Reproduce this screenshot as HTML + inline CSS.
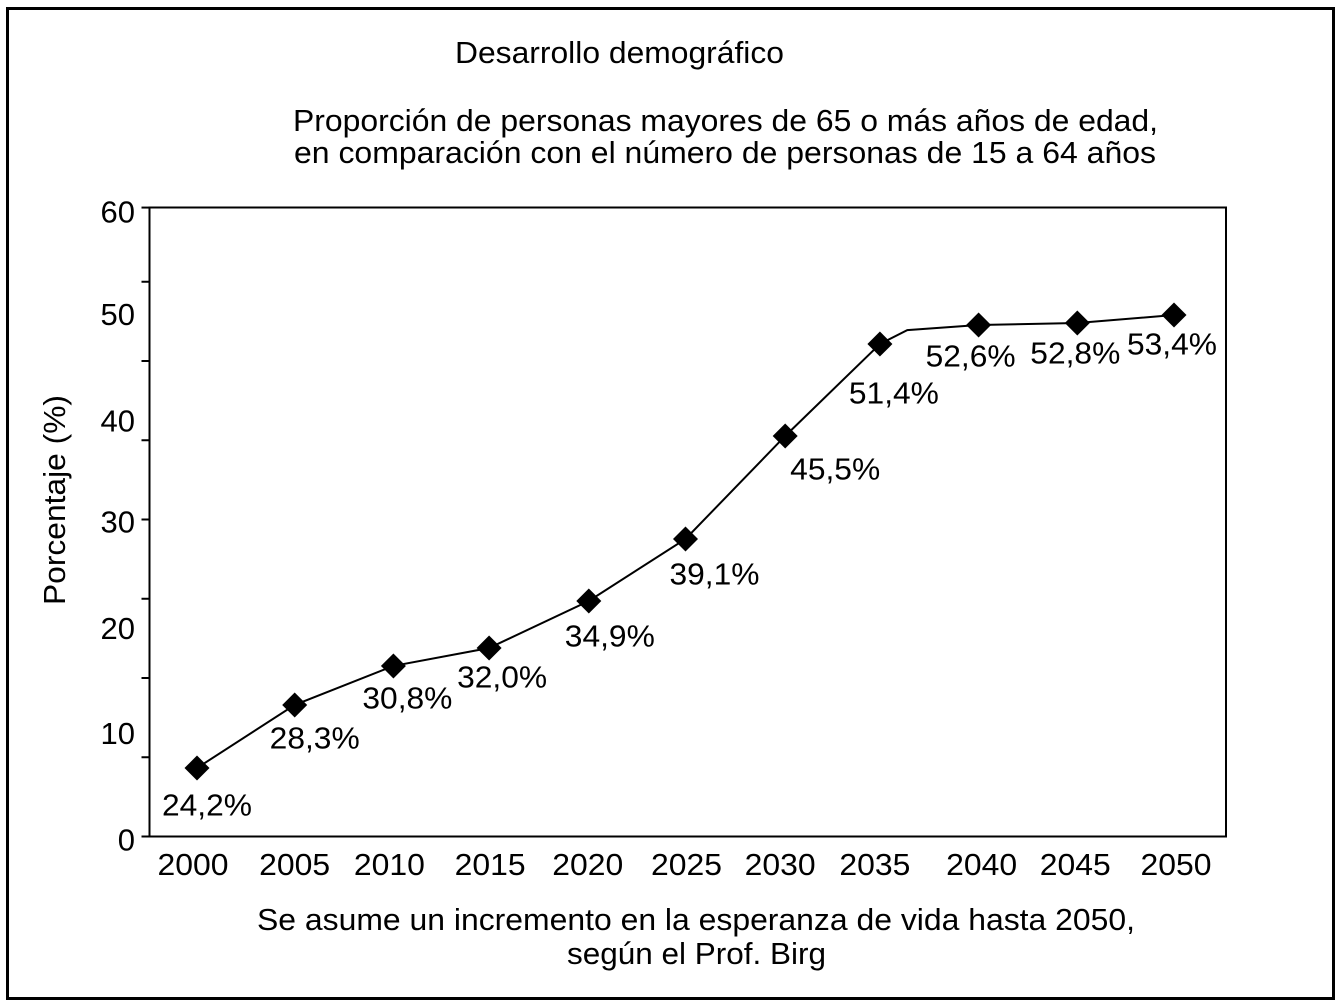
<!DOCTYPE html>
<html lang="es">
<head>
<meta charset="utf-8">
<title>Desarrollo demográfico</title>
<style>
html,body{margin:0;padding:0;background:#fff;width:1339px;height:1004px;overflow:hidden}
svg{display:block}
text{font-family:"Liberation Sans",Arial,sans-serif;font-size:31px;fill:#000}
</style>
</head>
<body>
<svg id="chart" xmlns="http://www.w3.org/2000/svg" width="1339" height="1004" viewBox="0 0 1339 1004">
  <rect x="7.5" y="8.5" width="1326" height="990" fill="#fff" stroke="#000" stroke-width="3"/>
  <text x="455" y="63" textLength="329" lengthAdjust="spacingAndGlyphs">Desarrollo demográfico</text>
  <text x="293" y="131" textLength="865" lengthAdjust="spacingAndGlyphs">Proporción de personas mayores de 65 o más años de edad,</text>
  <text x="294" y="163" textLength="862" lengthAdjust="spacingAndGlyphs">en comparación con el número de personas de 15 a 64 años</text>
  <text transform="translate(65,605) rotate(-90)" textLength="210" lengthAdjust="spacingAndGlyphs">Porcentaje (%)</text>
  <text x="257" y="930" textLength="878" lengthAdjust="spacingAndGlyphs">Se asume un incremento en la esperanza de vida hasta 2050,</text>
  <text x="567" y="964" textLength="259" lengthAdjust="spacingAndGlyphs">según el Prof. Birg</text>
  <rect x="149.5" y="207.5" width="1076.5" height="629" fill="none" stroke="#000" stroke-width="2"/>
  <g id="y-ticks"></g>
  <g id="y-labels"></g>
  <g id="x-labels"></g>
  <polyline id="series-line" fill="none" stroke="#000" stroke-width="2"/>
  <g id="markers"></g>
  <g id="value-labels"></g>
</svg>
<script>
const years = [2000, 2005, 2010, 2015, 2020, 2025, 2030, 2035, 2040, 2045, 2050];
const seriesValues = [24.32, 28.3, 30.76, 31.89, 34.86, 38.77, 45.27, 51.07, 52.27, 52.4, 52.9];
const valueLabels = ["24,2%", "28,3%", "30,8%", "32,0%", "34,9%", "39,1%", "45,5%", "51,4%", "52,6%", "52,8%", "53,4%"];
const bendYear = 2036.35;
const bendValue = 51.95;
const yTickValues = [20, 25, 30, 35, 40, 45, 50, 55, 59.68];
const yTickLabels = [0, 10, 20, 30, 40, 50, 60];

const markNudgeX = [0, 0, 1, -1, 1, 0, 2, -1, 0, 1, 0];
const labelOffsetX = [10, 20, 14, 13, 21, 29, 50, 14, -8, -2, -2];
const labelOffsetY = [37, 33, 32, 29, 35, 35, 33, 49, 31, 30, 29];
const xLabelOffset = [-4, 0, -3, 0, 0, 1, -3, -6, 3, -1, 2];
const yLabelNudge = [2, 0, -1, -3, 0, -2, 0];

const NS = "http://www.w3.org/2000/svg";
function xScale(year) { return 197 + (year - 2000) * 19.54; }
function yScale(value) { return 836.5 - (value - 20) * 15.85; }
function yLabelScale(value) { return 838 - value * 10.43; }

const yTicksGroup = document.getElementById("y-ticks");
yTickValues.forEach(function (v) {
  const tick = document.createElementNS(NS, "line");
  
  
  tick.setAttribute("x1", 141.5);
  tick.setAttribute("x2", 149.5);
  tick.setAttribute("y1", yScale(v));
  tick.setAttribute("y2", yScale(v));
  tick.setAttribute("stroke", "#000");
  tick.setAttribute("stroke-width", 2);
  yTicksGroup.appendChild(tick);
});

const yLabelsGroup = document.getElementById("y-labels");
yTickLabels.forEach(function (v, i) {
  const t = document.createElementNS(NS, "text");
  
  
  t.setAttribute("x", 135);
  t.setAttribute("y", yLabelScale(v) + yLabelNudge[i] + 10.5);
  t.setAttribute("text-anchor", "end");
  t.textContent = String(v);
  yLabelsGroup.appendChild(t);
});

const xLabelsGroup = document.getElementById("x-labels");
years.forEach(function (year, i) {
  const t = document.createElementNS(NS, "text");
  
  
  t.setAttribute("x", xScale(year) + xLabelOffset[i]);
  t.setAttribute("y", 875);
  t.setAttribute("text-anchor", "middle");
  t.setAttribute("textLength", 71);
  t.setAttribute("lengthAdjust", "spacingAndGlyphs");
  t.textContent = String(year);
  xLabelsGroup.appendChild(t);
});

const linePoints = [];
years.forEach(function (year, i) {
  linePoints.push((xScale(year) + markNudgeX[i]) + "," + yScale(seriesValues[i]));
  if (year === 2035) {
    linePoints.push(xScale(bendYear) + "," + yScale(bendValue));
  }
});
document.getElementById("series-line").setAttribute("points", linePoints.join(" "));

const markersGroup = document.getElementById("markers");
const valueLabelsGroup = document.getElementById("value-labels");
years.forEach(function (year, i) {
  const cx = xScale(year) + markNudgeX[i];
  const cy = yScale(seriesValues[i]);
  const marker = document.createElementNS(NS, "polygon");
  
  
  marker.setAttribute("points", [cx, cy - 12.5, cx + 12.5, cy, cx, cy + 12.5, cx - 12.5, cy].join(" "));
  marker.setAttribute("fill", "#000");
  markersGroup.appendChild(marker);

  const label = document.createElementNS(NS, "text");
  
  
  label.setAttribute("x", cx + labelOffsetX[i]);
  label.setAttribute("y", cy + labelOffsetY[i] + 10.5);
  label.setAttribute("text-anchor", "middle");
  label.setAttribute("textLength", 90);
  label.setAttribute("lengthAdjust", "spacingAndGlyphs");
  label.textContent = valueLabels[i];
  valueLabelsGroup.appendChild(label);
});
</script>
</body>
</html>
